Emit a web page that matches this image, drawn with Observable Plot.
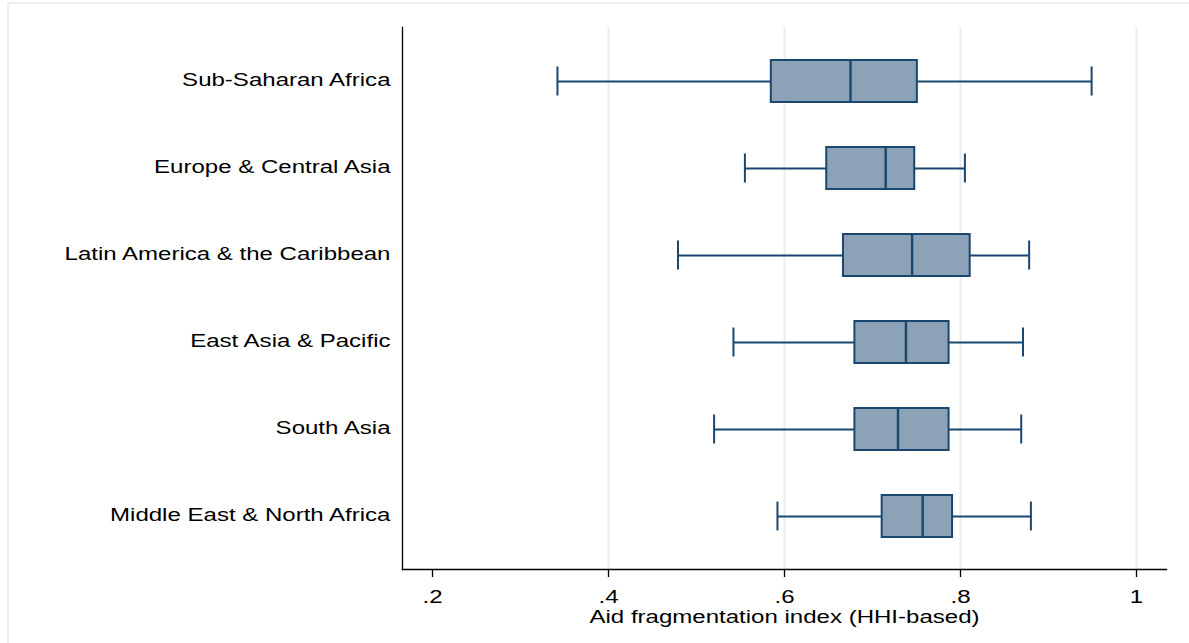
<!DOCTYPE html>
<html>
<head>
<meta charset="utf-8">
<script src="https://cdn.jsdelivr.net/npm/d3@7"></script>
<script src="https://cdn.jsdelivr.net/npm/@observablehq/plot@0.6"></script>
<style>
  html, body { margin: 0; padding: 0; background: #ffffff; overflow: hidden; }
  #wrap { position: relative; width: 1189px; height: 643px; }
  #border { position: absolute; left: 7px; top: 2px; width: 1300px; height: 800px;
            border: 2px solid #e9eff2; pointer-events: none; }
  #chart { position: absolute; left: 0; top: 0; }
</style>
</head>
<body>
<div id="wrap"><div id="chart"></div><div id="border"></div></div>
<script>
// ---- data ----
const regions = [
  "Sub-Saharan Africa",
  "Europe & Central Asia",
  "Latin America & the Caribbean",
  "East Asia & Pacific",
  "South Asia",
  "Middle East & North Africa"
];
const lowerWhisker = [0.342, 0.555, 0.479, 0.542, 0.520, 0.592];
const q1Values     = [0.585, 0.648, 0.667, 0.680, 0.680, 0.711];
const medianValues = [0.675, 0.715, 0.745, 0.738, 0.729, 0.757];
const q3Values     = [0.751, 0.748, 0.811, 0.787, 0.787, 0.791];
const upperWhisker = [0.949, 0.805, 0.878, 0.871, 0.869, 0.880];
const xTicks = [0.2, 0.4, 0.6, 0.8, 1];
const gridTicks = [0.4, 0.6, 0.8, 1];
const xTitle = "Aid fragmentation index (HHI-based)";

const rows = regions.map((r, i) => ({
  region: r, lo: lowerWhisker[i], q1: q1Values[i], med: medianValues[i], q3: q3Values[i], hi: upperWhisker[i]
}));

const navy = "#1a476f";
const boxFill = "#8ca3b7";
const fs = 18.5;

const chart = Plot.plot({
  width: 1189,
  height: 643,
  marginLeft: 402,
  marginRight: 23,
  marginTop: 27,
  marginBottom: 74,
  style: { fontFamily: "'Liberation Sans', Arial, sans-serif", fontSize: fs + "px", background: "transparent", color: "#000" },
  x: { domain: [0.1659, 1.0341] },
  y: { type: "band", domain: regions, paddingInner: 0.519, paddingOuter: 0.3655 },
  marks: [
    Plot.gridX(gridTicks, { stroke: "#e8eef1", strokeOpacity: 1, strokeWidth: 2 }),
    Plot.ruleY(rows, { y: "region", x1: "lo", x2: "q1", stroke: navy, strokeWidth: 1.8 }),
    Plot.ruleY(rows, { y: "region", x1: "q3", x2: "hi", stroke: navy, strokeWidth: 1.8 }),
    Plot.tickX(rows, { y: "region", x: "lo", stroke: navy, strokeWidth: 2, insetTop: 6.5, insetBottom: 6.5 }),
    Plot.tickX(rows, { y: "region", x: "hi", stroke: navy, strokeWidth: 2, insetTop: 6.5, insetBottom: 6.5 }),
    Plot.barX(rows, { y: "region", x1: "q1", x2: "q3", fill: boxFill, stroke: navy, strokeWidth: 2 }),
    Plot.tickX(rows, { y: "region", x: "med", stroke: navy, strokeWidth: 2.4 }),
    Plot.frame({ anchor: "left", stroke: "#000", strokeWidth: 1.3 }),
    Plot.frame({ anchor: "bottom", stroke: "#000", strokeWidth: 1.3 }),
    Plot.axisY({ tickSize: 0, tickPadding: 12, label: null, fontSize: fs, dy: -1.5 }),
    Plot.axisX({ ticks: xTicks, tickSize: 8, tickPadding: 12, label: null, fontSize: fs, strokeWidth: 1.3,
                 tickFormat: d => d === 1 ? "1" : String(d).replace(/^0\./, ".") }),
    Plot.text([xTitle], { frameAnchor: "bottom", dy: 48, fontSize: fs, fill: "#000", lineAnchor: "middle" })
  ]
});

document.getElementById("chart").appendChild(chart);

// Stretch text horizontally about its anchor (the reference text is wide)
const sx = 1.3;
chart.querySelectorAll("text").forEach(t => {
  const x = parseFloat(t.getAttribute("x")) || 0;
  const tr = t.getAttribute("transform") || "";
  t.setAttribute("transform", `${tr} translate(${x},0) scale(${sx},1) translate(${-x},0)`.trim());
});
</script>
</body>
</html>
